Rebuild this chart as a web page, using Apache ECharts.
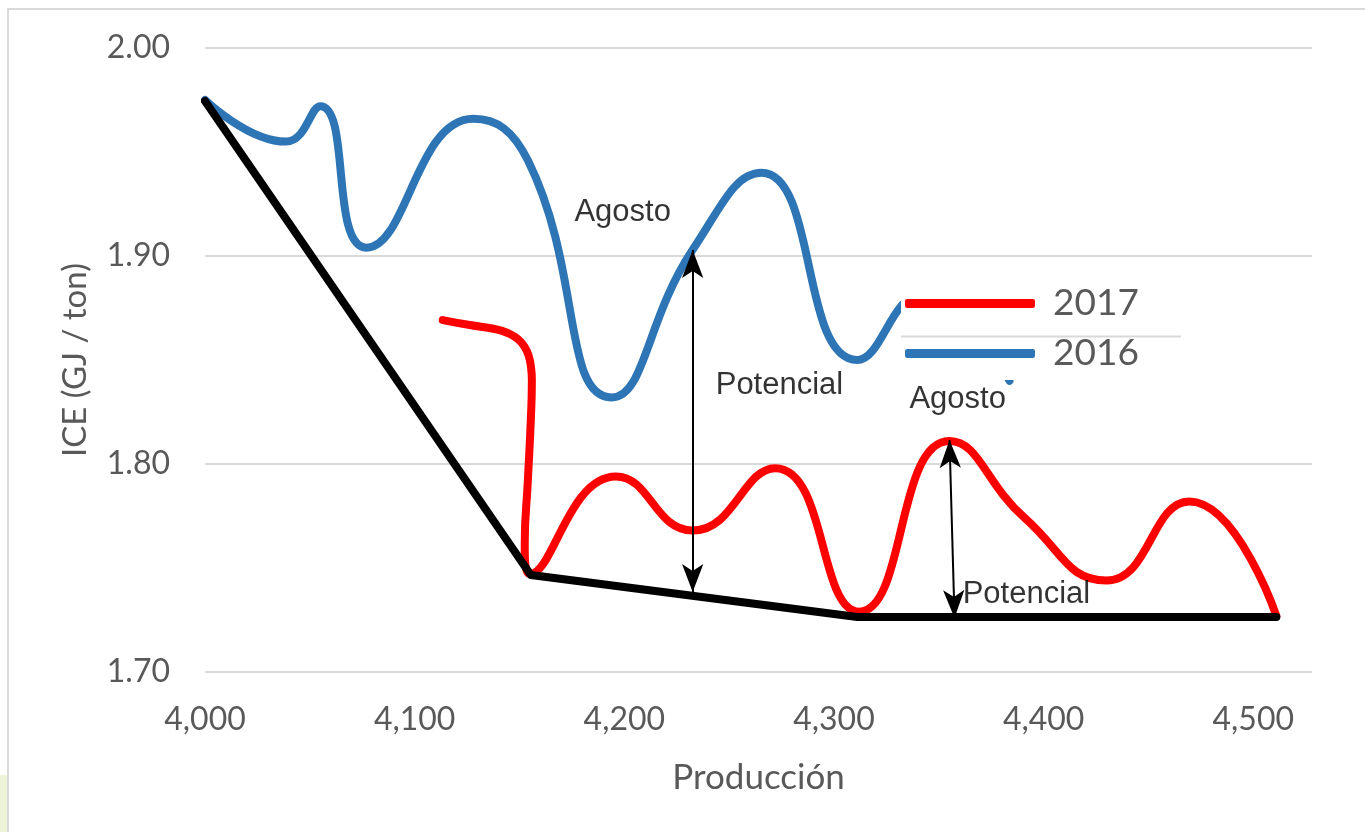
<!DOCTYPE html>
<html>
<head>
<meta charset="utf-8">
<script src="https://cdn.jsdelivr.net/npm/echarts@6/dist/echarts.min.js"></script>
<style>html,body{margin:0;padding:0;background:#fff;}#c{width:1365px;height:832px;}</style>
</head>
<body>
<div id="c"></div>
<script>
// ---- data ----
const xTicks = [4000, 4100, 4200, 4300, 4400, 4500];
const yTicks = [1.70, 1.80, 1.90, 2.00];
const x2016 = [4000, 4038.6, 4055, 4077, 4128, 4154, 4194, 4232.6, 4265.5, 4311, 4343, 4383.7];
const y2016 = [1.975, 1.955, 1.972, 1.904, 1.966, 1.946, 1.832, 1.903, 1.940, 1.850, 1.882, 1.840];
const x2017 = [4113.4, 4126.3, 4138.2, 4144.4, 4149.2, 4152.5, 4154.4, 4155.4, 4155.9, 4155.4, 4154.0, 4152.5, 4155.0,
               4196, 4232.6, 4272, 4312, 4355, 4391, 4430, 4469.5, 4511];
const y2017 = [1.8692, 1.8668, 1.8649, 1.8630, 1.8601, 1.8562, 1.8519, 1.8471, 1.8404, 1.8212, 1.7923, 1.7611, 1.7470,
               1.794, 1.768, 1.798, 1.729, 1.811, 1.774, 1.744, 1.782, 1.727];
const xFront = [4000, 4155.4, 4311.2, 4511];
const yFront = [1.9745, 1.7466, 1.7264, 1.7264];
const annotations = [
  [4199.2, 1.9207, 'Agosto'],
  [4274, 1.838, 'Potencial'],
  [4359, 1.8308, 'Agosto'],
  [4391.8, 1.7375, 'Potencial']
];
const arrows = [
  [[4232.6, 1.9029], [4232.6, 1.7385]],
  [[4355.1, 1.8115], [4357.5, 1.7260]]
];

const zip = (xs, ys) => xs.map((x, i) => [x, ys[i]]);
const chart = echarts.init(document.getElementById('c'));
const axisFont = { fontFamily: 'Lato', color: '#595959' };

chart.setOption({
  animation: false,
  backgroundColor: '#fff',
  grid: { left: 205, right: 53, top: 48, bottom: 160 },
  xAxis: {
    type: 'value', min: 4000, max: 4528, interval: 100,
    axisLine: { show: false }, axisTick: { show: false }, splitLine: { show: false },
    axisLabel: Object.assign({ fontSize: 32, margin: 32, showMaxLabel: false,
      formatter: v => xTicks.includes(v) ? v.toLocaleString('en-US') : '' }, axisFont),
    name: 'Producción', nameLocation: 'middle', nameGap: 88,
    nameTextStyle: Object.assign({ fontSize: 35 }, axisFont)
  },
  yAxis: {
    type: 'value', min: 1.70, max: 2.00, interval: 0.1,
    axisLine: { show: false }, axisTick: { show: false },
    splitLine: { show: true, lineStyle: { color: '#d9d9d9', width: 2 } },
    axisLabel: Object.assign({ fontSize: 32, margin: 35,
      formatter: v => v.toFixed(2) }, axisFont),
    name: 'ICE (GJ / ton)', nameLocation: 'middle', nameGap: 113,
    nameTextStyle: Object.assign({ fontSize: 33 }, axisFont)
  },
  legend: {
    data: ['2017', '2016'], orient: 'vertical', left: 901, top: 283,
    backgroundColor: '#ffffff', padding: [2, 42, 8, 4], itemGap: 13,
    itemWidth: 130, itemHeight: 9, icon: 'roundRect',
    textStyle: { fontFamily: 'Lato', fontSize: 37, color: '#595959', padding: [0, 0, 0, 13] }
  },
  graphic: [
    { type: 'rect', z: -10, shape: { x: 8, y: 9, width: 1400, height: 900 },
      style: { fill: 'none', stroke: '#d9d9d9', lineWidth: 2 } },
    { type: 'rect', z: -11, shape: { x: 0, y: 775, width: 7, height: 60 },
      style: { fill: '#eef4d8' } },
    { type: 'line', z: 100, shape: { x1: 901, y1: 336.5, x2: 1181, y2: 336.5 },
      style: { stroke: '#d9d9d9', lineWidth: 2 } }
  ],
  series: [
    { name: '2016', type: 'line', data: zip(x2016, y2016), smooth: 0.5, smoothMonotone: 'none',
      symbol: 'none', color: '#2e75b6', z: 2,
      lineStyle: { width: 8, color: '#2e75b6', cap: 'round', join: 'round' } },
    { name: '2017', type: 'line', data: zip(x2017, y2017), smooth: 0.5, smoothMonotone: 'none',
      symbol: 'none', color: '#ff0000', z: 2,
      lineStyle: { width: 8, color: '#ff0000', cap: 'round', join: 'round' } },
    { name: 'frontera', type: 'line', data: zip(xFront, yFront), smooth: false,
      symbol: 'none', color: '#000', z: 3,
      lineStyle: { width: 8, color: '#000', cap: 'round', join: 'round' },
      markLine: {
        silent: true, symbol: ['arrow', 'arrow'], symbolSize: [16, 28],
        label: { show: false },
        lineStyle: { color: '#000', width: 2, type: 'solid' },
        data: arrows.map(a => [{ coord: a[0] }, { coord: a[1] }])
      } },
    { name: 'notas', type: 'scatter', data: annotations, symbolSize: 0, z: 5, silent: true,
      label: { show: true, position: [0, 0], align: 'center', verticalAlign: 'middle',
        formatter: p => p.data[2], fontFamily: 'Liberation Sans, Arial', fontSize: 31, color: '#000' } }
  ]
});
</script>
</body>
</html>
